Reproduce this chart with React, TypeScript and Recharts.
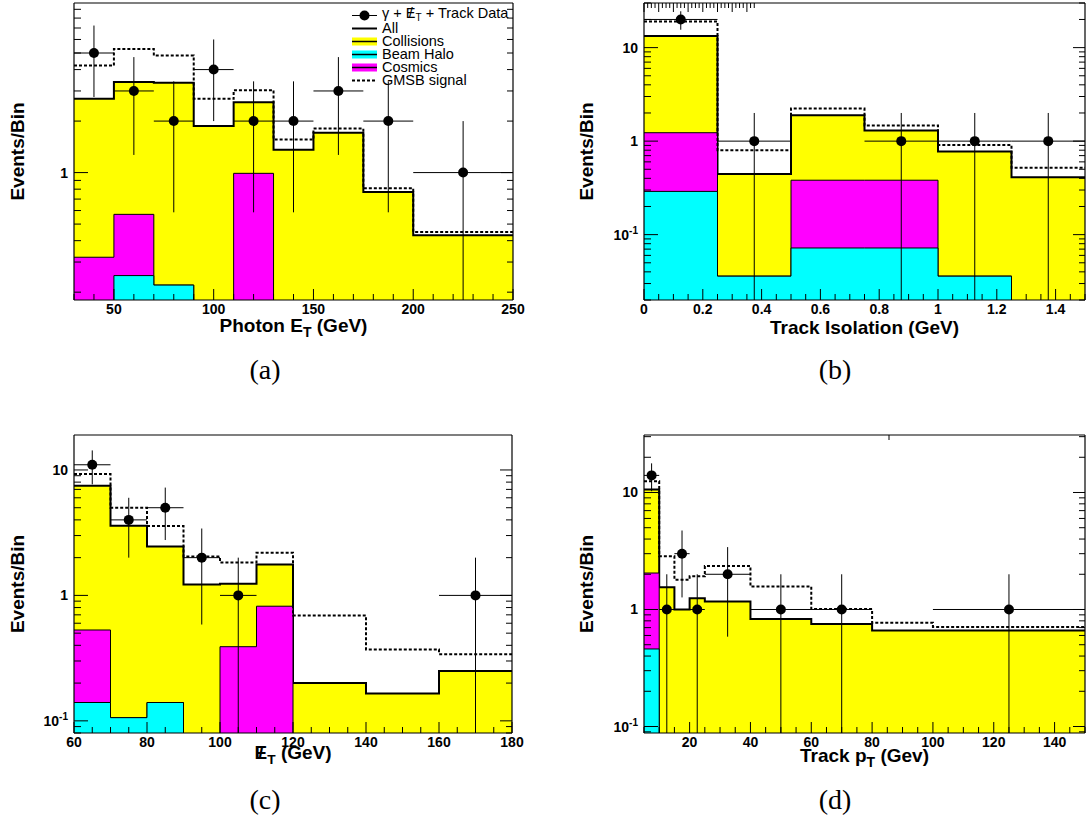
import React from 'react';
import { ComposedChart, Area, Line, Scatter, ErrorBar, XAxis, YAxis, Legend, Label } from 'recharts';

const SANS = '"Liberation Sans", Arial, Helvetica, sans-serif';
const SERIF = '"Liberation Serif", "Times New Roman", serif';

const YELLOW = '#ffff00';
const CYAN = '#00ffff';
const MAGENTA = '#ff00ff';

// (a) photon E_T
const photonEdges = [30, 50, 70, 90, 110, 130, 150, 175, 200, 250];
const photonCollisions = [2.38, 2.81, 3.13, 1.87, 1.59, 1.36, 1.71, 0.77, 0.43];
const photonHalo = [0, 0.25, 0.22, 0, 0, 0, 0, 0, 0];
const photonCosmics = [0.32, 0.32, 0, 0, 0.99, 0, 0, 0, 0];
const photonGmsb = [4.22, 5.28, 4.83, 2.7, 3.03, 1.56, 1.81, 0.81, 0.45];
const photonCounts = [5, 3, 2, 4, 2, 2, 3, 2, 1];

// (b) track isolation
const isoEdges = [0, 0.25, 0.5, 0.75, 1.0, 1.25, 1.5];
const isoCollisions = [12.1, 0.41, 1.51, 0.92, 0.74, 0.41];
const isoHalo = [0.29, 0.036, 0.072, 0.072, 0.036, 0];
const isoCosmics = [0.94, 0, 0.31, 0.31, 0, 0];
const isoGmsb = [19, 0.8, 2.23, 1.47, 0.91, 0.52];
const isoCounts = [20, 1, 0, 1, 1, 1];

// (c) missing E_T
const metEdges = [60, 70, 80, 90, 100, 110, 120, 140, 160, 180];
const metCollisions = [6.97, 3.49, 2.31, 1.22, 0.85, 0.94, 0.2, 0.165, 0.25];
const metHalo = [0.14, 0.106, 0.14, 0, 0, 0, 0, 0, 0];
const metCosmics = [0.39, 0, 0, 0, 0.39, 0.82, 0, 0, 0];
const metGmsb = [9.3, 5.0, 3.58, 2.04, 1.83, 2.19, 0.69, 0.37, 0.34];
const metCounts = [11, 4, 5, 2, 1, 0, 0, 0, 1];

// (d) track pT
const ptEdges = [5, 10, 15, 20, 25, 40, 60, 80, 100, 150];
const ptCollisions = [8.55, 1.55, 1.0, 1.25, 1.17, 0.83, 0.75, 0.66, 0.66];
const ptHalo = [0.46, 0, 0, 0, 0, 0, 0, 0, 0];
const ptCosmics = [1.59, 0, 0, 0, 0, 0, 0, 0, 0];
const ptGmsb = [12.5, 2.85, 1.8, 1.92, 2.35, 1.57, 1.01, 0.77, 0.71];
const ptCounts = [14, 1, 3, 1, 2, 1, 1, 0, 1];

type Hist = {
  edges: number[];
  collisions: number[];
  halo: number[];
  cosmics: number[];
  gmsb: number[];
  counts: number[];
};

// empty bins sit far below every log range and get clipped
const FLOOR = 1e-4;
const positive = (v: number) => (v > 0 ? v : FLOOR);

// one row per bin edge, cumulative stack tops (halo, halo+cosmics, all)
function stackRows(h: Hist) {
  const last = h.collisions.length - 1;
  return h.edges.map((x, i) => {
    const b = Math.min(i, last);
    const halo = h.halo[b];
    const cosmics = halo + h.cosmics[b];
    const all = cosmics + h.collisions[b];
    return { x, halo: positive(halo), cosmics: positive(cosmics), all: positive(all), gmsb: h.gmsb[b] };
  });
}

// sqrt(N) errors; the lower end stops at the bottom of the log axis
function dataPoints(h: Hist, yMin: number) {
  return h.counts
    .map((n, i) => {
      const lo = h.edges[i];
      const hi = h.edges[i + 1];
      const err = Math.sqrt(n);
      return { x: (lo + hi) / 2, y: n, ex: (hi - lo) / 2, ey: [n - Math.max(n - err, yMin), err] };
    })
    .filter((p) => p.y > 0);
}

function linTicks(lo: number, hi: number, step: number) {
  const out: number[] = [];
  for (let i = Math.ceil(lo / step - 1e-9); i * step <= hi + 1e-9; i++) out.push(+(i * step).toFixed(6));
  return out;
}

function logTicks(lo: number, hi: number) {
  const out: number[] = [];
  for (let e = Math.floor(Math.log10(lo)); e <= Math.ceil(Math.log10(hi)); e++) {
    for (let k = 1; k <= 9; k++) {
      const v = +(k * Math.pow(10, e)).toPrecision(6);
      if (v >= lo && v <= hi) out.push(v);
    }
  }
  return out;
}

const isDecade = (v: number) => Math.abs(Math.log10(v) - Math.round(Math.log10(v))) < 1e-6;

const tickText = { fontFamily: SANS, fontWeight: 700, fontSize: 14, fill: '#000' } as const;
const titleText = { fontFamily: SANS, fontWeight: 700, fontSize: 19, fill: '#000' } as const;

function decadeLabel(v: number) {
  const e = Math.round(Math.log10(v));
  if (e === 0) return '1';
  if (e === 1) return '10';
  return (
    <>
      10<tspan dy={-6} fontSize={10}>{String(e)}</tspan>
    </>
  );
}

function bottomTick(majorStep: number) {
  return (props: any) => {
    const { x, y, payload } = props;
    const v = payload.value;
    const major = Math.abs(v / majorStep - Math.round(v / majorStep)) < 1e-6;
    return (
      <g>
        <line x1={x} y1={y} x2={x} y2={y - (major ? 11 : 6)} stroke="#000" />
        {major && (
          <text x={x} y={y + 14} textAnchor="middle" {...tickText}>
            {String(v)}
          </text>
        )}
      </g>
    );
  };
}

function topTick(majorStep: number) {
  return (props: any) => {
    const { x, y, payload } = props;
    const v = payload.value;
    const major = Math.abs(v / majorStep - Math.round(v / majorStep)) < 1e-6;
    return <line x1={x} y1={y} x2={x} y2={y + (major ? 9 : 5)} stroke="#000" />;
  };
}

const leftTick = (props: any) => {
  const { x, y, payload } = props;
  const major = isDecade(payload.value);
  return (
    <g>
      <line x1={x} y1={y} x2={x + (major ? 14 : 7)} y2={y} stroke="#000" />
      {major && (
        <text x={x - 6} y={y + 5} textAnchor="end" {...tickText}>
          {decadeLabel(payload.value)}
        </text>
      )}
    </g>
  );
};

const rightTick = (props: any) => {
  const { x, y, payload } = props;
  const major = isDecade(payload.value);
  return <line x1={x} y1={y} x2={x - (major ? 12 : 6)} y2={y} stroke="#000" />;
};

// E with a slash through it, followed by a subscript T
function SlashedET({ size }: { size: number }) {
  return (
    <>
      <tspan>E</tspan>
      <tspan dx={-size * 0.47}>/</tspan>
      <tspan dx={size * 0.2} dy={5} fontSize={size * 0.72}>T</tspan>
    </>
  );
}

function LegendSwatch({ kind }: { kind: string }) {
  const fills: Record<string, string> = { collisions: YELLOW, halo: CYAN, cosmics: MAGENTA };
  return (
    <svg width={28} height={13} style={{ display: 'block', flex: 'none' }}>
      {kind === 'data' && (
        <>
          <line x1={1} x2={26} y1={6.5} y2={6.5} stroke="#000" />
          <circle cx={13.5} cy={6.5} r={5} fill="#000" />
        </>
      )}
      {kind === 'all' && <line x1={1} x2={26} y1={6.5} y2={6.5} stroke="#000" strokeWidth={2} />}
      {fills[kind] && (
        <>
          <rect x={1} y={2.5} width={25} height={8} fill={fills[kind]} />
          <line x1={1} x2={26} y1={6.5} y2={6.5} stroke="#000" strokeWidth={1.5} />
        </>
      )}
      {kind === 'gmsb' && (
        <line x1={1} x2={26} y1={6.5} y2={6.5} stroke="#000" strokeWidth={2} strokeDasharray="3 2" />
      )}
    </svg>
  );
}

const legendRows: { kind: string; label: React.ReactNode }[] = [
  {
    kind: 'data',
    label: (
      <>
        γ + <span>E</span>
        <span style={{ marginLeft: -6.6 }}>/</span>
        <sub style={{ marginLeft: 2.7, fontSize: 10, verticalAlign: -3 }}>T</sub> + Track Data
      </>
    ),
  },
  { kind: 'all', label: 'All' },
  { kind: 'collisions', label: 'Collisions' },
  { kind: 'halo', label: 'Beam Halo' },
  { kind: 'cosmics', label: 'Cosmics' },
  { kind: 'gmsb', label: 'GMSB signal' },
];

const renderLegend = () => (
  <div style={{ fontFamily: SANS, fontSize: 14.5, lineHeight: '13px', color: '#000' }}>
    {legendRows.map((r) => (
      <div key={r.kind} style={{ display: 'flex', alignItems: 'center', height: 13, whiteSpace: 'nowrap' }}>
        <LegendSwatch kind={r.kind} />
        <span style={{ marginLeft: 3 }}>{r.label}</span>
      </div>
    ))}
  </div>
);

type PanelProps = {
  hist: Hist;
  left: number;
  top: number;
  width: number;
  height: number;
  margin: { top: number; right: number; bottom: number; left: number };
  yAxisWidth: number;
  xAxisHeight: number;
  xDomain: [number, number];
  xStep: number;
  xMajor: number;
  yDomain: [number, number];
  xTitle: React.ReactNode;
  xTitleDy: number;
  yTitleX: number;
  legend?: boolean;
};

function Panel(p: PanelProps) {
  const rows = stackRows(p.hist);
  const points = dataPoints(p.hist, p.yDomain[0]);
  const xTicks = linTicks(p.xDomain[0], p.xDomain[1], p.xStep);
  const yTicks = logTicks(p.yDomain[0], p.yDomain[1]);
  const frame = { stroke: '#000', strokeWidth: 1.2 };

  return (
    <div style={{ position: 'absolute', left: p.left, top: p.top }}>
      <ComposedChart width={p.width} height={p.height} data={rows} margin={p.margin}>
        <Area type="stepAfter" dataKey="all" baseValue="dataMin" fill={YELLOW} fillOpacity={1} stroke="#000" strokeWidth={2} dot={false} activeDot={false} isAnimationActive={false} />
        <Area type="stepAfter" dataKey="cosmics" baseValue="dataMin" fill={MAGENTA} fillOpacity={1} stroke="#000" strokeWidth={1} dot={false} activeDot={false} isAnimationActive={false} />
        <Area type="stepAfter" dataKey="halo" baseValue="dataMin" fill={CYAN} fillOpacity={1} stroke="#000" strokeWidth={1} dot={false} activeDot={false} isAnimationActive={false} />
        <Line type="stepAfter" dataKey="gmsb" stroke="#000" strokeWidth={2} strokeDasharray="3 2" dot={false} activeDot={false} isAnimationActive={false} />
        <Scatter
          data={points}
          dataKey="y"
          fill="#000"
          isAnimationActive={false}
          shape={(s: any) => <circle cx={s.cx} cy={s.cy} r={5} fill="#000" />}
        >
          <ErrorBar dataKey="ey" direction="y" width={0} stroke="#000" strokeWidth={1} />
          <ErrorBar dataKey="ex" direction="x" width={0} stroke="#000" strokeWidth={1} />
        </Scatter>

        <XAxis
          dataKey="x"
          type="number"
          domain={p.xDomain}
          allowDataOverflow
          ticks={xTicks}
          interval={0}
          tickSize={0}
          tickMargin={0}
          height={p.xAxisHeight}
          axisLine={frame}
          tickLine={false}
          tick={bottomTick(p.xMajor)}
        >
          <Label
            content={({ viewBox }: any) => (
              <text x={viewBox.x + viewBox.width / 2} y={viewBox.y + p.xTitleDy} textAnchor="middle" {...titleText}>
                {p.xTitle}
              </text>
            )}
          />
        </XAxis>
        <XAxis
          xAxisId="top"
          orientation="top"
          type="number"
          domain={p.xDomain}
          allowDataOverflow
          ticks={xTicks}
          interval={0}
          tickSize={0}
          tickMargin={0}
          height={1}
          axisLine={frame}
          tickLine={false}
          tick={topTick(p.xMajor)}
        />
        <YAxis
          type="number"
          scale="log"
          domain={p.yDomain}
          allowDataOverflow
          ticks={yTicks}
          interval={0}
          tickSize={0}
          tickMargin={0}
          width={p.yAxisWidth}
          axisLine={frame}
          tickLine={false}
          tick={leftTick}
        >
          <Label
            content={({ viewBox }: any) => {
              const cx = viewBox.x + p.yTitleX;
              const cy = viewBox.y + viewBox.height / 2;
              return (
                <text x={cx} y={cy} transform={`rotate(-90 ${cx} ${cy})`} textAnchor="middle" {...titleText}>
                  Events/Bin
                </text>
              );
            }}
          />
        </YAxis>
        <YAxis
          yAxisId="right"
          orientation="right"
          type="number"
          scale="log"
          domain={p.yDomain}
          allowDataOverflow
          ticks={yTicks}
          interval={0}
          tickSize={0}
          tickMargin={0}
          width={1}
          axisLine={frame}
          tickLine={false}
          tick={rightTick}
        />
        {p.legend && (
          <Legend
            layout="vertical"
            align="center"
            verticalAlign="middle"
            content={renderLegend}
            wrapperStyle={{ left: 351, top: 9, width: 'auto', height: 'auto' }}
          />
        )}
      </ComposedChart>
    </div>
  );
}

function Caption({ text, cx, cy }: { text: string; cx: number; cy: number }) {
  return (
    <div
      style={{
        position: 'absolute',
        left: cx - 50,
        top: cy - 17,
        width: 100,
        textAlign: 'center',
        fontFamily: SERIF,
        fontSize: 28,
        lineHeight: '30px',
        color: '#000',
      }}
    >
      {text}
    </div>
  );
}

const photonHist: Hist = { edges: photonEdges, collisions: photonCollisions, halo: photonHalo, cosmics: photonCosmics, gmsb: photonGmsb, counts: photonCounts };
const isoHist: Hist = { edges: isoEdges, collisions: isoCollisions, halo: isoHalo, cosmics: isoCosmics, gmsb: isoGmsb, counts: isoCounts };
const metHist: Hist = { edges: metEdges, collisions: metCollisions, halo: metHalo, cosmics: metCosmics, gmsb: metGmsb, counts: metCounts };
const ptHist: Hist = { edges: ptEdges, collisions: ptCollisions, halo: ptHalo, cosmics: ptCosmics, gmsb: ptGmsb, counts: ptCounts };

export default function App() {
  return (
    <div style={{ position: 'absolute', left: 0, top: 0, width: 1086, height: 824, background: '#fff', overflow: 'hidden' }}>
      <Panel
        hist={photonHist}
        left={0}
        top={0}
        width={530}
        height={350}
        margin={{ top: 2, right: 16, bottom: 5, left: 0 }}
        yAxisWidth={74}
        xAxisHeight={45}
        xDomain={[30, 250]}
        xStep={10}
        xMajor={50}
        yDomain={[0.18, 9.8]}
        xTitle={
          <>
            Photon E<tspan dy={5} fontSize={14}>T</tspan>
            <tspan dy={-5}> (GeV)</tspan>
          </>
        }
        xTitleDy={32}
        yTitleX={24}
        legend
      />
      <Panel
        hist={isoHist}
        left={560}
        top={0}
        width={526}
        height={350}
        margin={{ top: 2, right: 0, bottom: 5, left: 0 }}
        yAxisWidth={84}
        xAxisHeight={45}
        xDomain={[0, 1.5]}
        xStep={0.05}
        xMajor={0.2}
        yDomain={[0.02, 30]}
        xTitle="Track Isolation (GeV)"
        xTitleDy={34}
        yTitleX={33}
      />
      <Panel
        hist={metHist}
        left={0}
        top={420}
        width={530}
        height={350}
        margin={{ top: 14, right: 17, bottom: 5, left: 0 }}
        yAxisWidth={74}
        xAxisHeight={32}
        xDomain={[60, 180]}
        xStep={5}
        xMajor={20}
        yDomain={[0.08, 19]}
        xTitle={
          <>
            <SlashedET size={19} />
            <tspan dy={-5}> (GeV)</tspan>
          </>
        }
        xTitleDy={26}
        yTitleX={24}
      />
      <Panel
        hist={ptHist}
        left={560}
        top={420}
        width={526}
        height={350}
        margin={{ top: 14, right: 0, bottom: 5, left: 0 }}
        yAxisWidth={84}
        xAxisHeight={32}
        xDomain={[5, 150]}
        xStep={5}
        xMajor={20}
        yDomain={[0.088, 31]}
        xTitle={
          <>
            Track p<tspan dy={5} fontSize={14}>T</tspan>
            <tspan dy={-5}> (Gev)</tspan>
          </>
        }
        xTitleDy={29}
        yTitleX={33}
      />
      <Caption text="(a)" cx={265} cy={372} />
      <Caption text="(b)" cx={835} cy={372} />
      <Caption text="(c)" cx={265} cy={802} />
      <Caption text="(d)" cx={835} cy={802} />
    </div>
  );
}
